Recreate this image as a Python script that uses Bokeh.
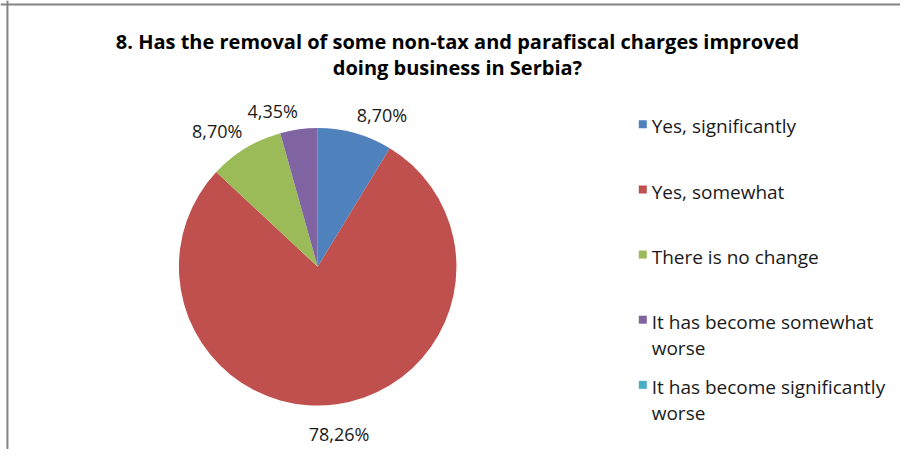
import numpy as np
import textwrap
from bokeh.plotting import figure
from bokeh.models import Range1d, Span, ColumnDataSource
from bokeh.core.properties import value
from bokeh.embed import file_html
from bokeh.resources import INLINE

# ---- data ----
title_lines = [
    "8. Has the removal of some non-tax and parafiscal charges improved",
    "doing business in Serbia?",
]
categories = [
    "Yes, significantly",
    "Yes, somewhat",
    "There is no change",
    "It has become somewhat worse",
    "It has become significantly worse",
]
shares = [8.70, 78.26, 8.70, 4.35, 0.0]
share_labels = ["8,70%", "78,26%", "8,70%", "4,35%", ""]
colors = ["#4F81BD", "#C0504D", "#9BBB59", "#8064A2", "#4BACC6"]

# ---- layout helpers (reference pixel -> data units) ----
W, H = 900, 449
SX, SY = W / 908, H / 457
def px(X):
    return X * SX
def py(Y):
    return H - Y * SY

p = figure(width=W, height=H, x_range=Range1d(0, W), y_range=Range1d(0, H),
           output_backend="svg", toolbar_location=None,
           x_axis_location=None, y_axis_location=None, min_border=0)
p.grid.visible = False
p.outline_line_color = None
p.background_fill_color = "white"
p.border_fill_color = "white"

FONT = "Open Sans"

# frame lines (left and top)
p.add_layout(Span(location=px(7), dimension="height", line_color="#848484", line_width=2))
p.add_layout(Span(location=py(4), dimension="width", line_color="#848484", line_width=2))

# ---- title ----
tsrc = ColumnDataSource(dict(x=[px(461)] * len(title_lines),
                             y=[py(42 + 26 * i) for i in range(len(title_lines))],
                             t=title_lines))
p.text(x="x", y="y", text="t", source=tsrc, text_align="center", text_baseline="middle",
       text_font=value(FONT), text_font_style="bold", text_font_size="20px", text_color="#000000")

# ---- pie ----
cx, cy, r = px(320), py(271), 140 * SX
vals = np.array(shares, dtype=float)
frac = vals / vals.sum()
cum = np.concatenate([[0.0], np.cumsum(frac)])
start = np.pi / 2 - 2 * np.pi * cum[:-1]
end = np.pi / 2 - 2 * np.pi * cum[1:]
keep = vals > 0
wsrc = ColumnDataSource(dict(start=start[keep], end=end[keep],
                             color=[c for c, k in zip(colors, keep) if k]))
p.wedge(x=cx, y=cy, radius=r, start_angle="start", end_angle="end", direction="clock",
        fill_color="color", line_color=None, source=wsrc)

# ---- data labels ----
lx, ly, lt, la, lb = [], [], [], [], []
for i in range(len(vals)):
    if not keep[i]:
        continue
    th = 2 * np.pi * (cum[i] + cum[i + 1]) / 2
    dx, dy = np.sin(th), np.cos(th)
    lt.append(share_labels[i])
    if dy < -0.5:
        d = r + 18
        la.append("center"); lb.append("top")
    else:
        d = r + 6
        la.append("left" if dx > 0 else "right")
        lb.append("bottom" if dy > 0 else "top")
    lx.append(cx + d * dx)
    ly.append(cy + d * dy)
lsrc = ColumnDataSource(dict(x=lx, y=ly, t=lt, a=la, b=lb))
p.text(x="x", y="y", text="t", source=lsrc, text_align="a", text_baseline="b",
       text_font=value(FONT), text_font_size="18px", text_color="#1a1a1a")

# ---- legend (drawn manually) ----
n = len(categories)
ys = [128 + 66.3 * i for i in range(n)]
msrc = ColumnDataSource(dict(x=[px(648)] * n, y=[py(Y - 2) for Y in ys], c=colors))
p.scatter(x="x", y="y", marker="square", size=8, fill_color="c", line_color=None, source=msrc)
txt = [textwrap.fill(c, 27) for c in categories]
gsrc = ColumnDataSource(dict(x=[px(657)] * n, y=[py(Y - 13) for Y in ys], t=txt))
p.text(x="x", y="y", text="t", source=gsrc, text_align="left", text_baseline="top",
       text_font=value(FONT), text_font_size="19px", text_line_height=1.0, text_color="#1a1a1a")

open("out.html", "w").write(file_html(p, INLINE))
